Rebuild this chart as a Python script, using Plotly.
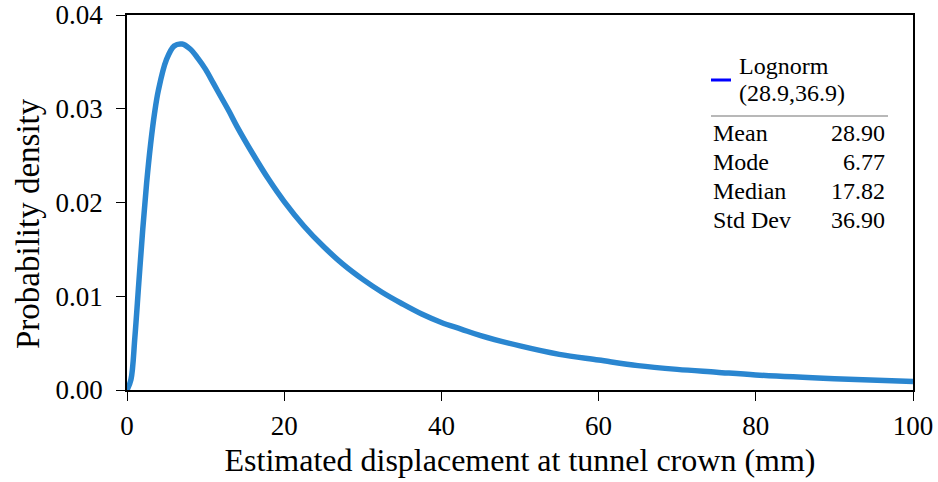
import plotly.graph_objects as go

# Curve values (estimated displacement mm, density)
disp_mm = [0, 0.5, 1, 1.5, 2, 2.5, 3, 3.5, 4, 5, 6, 7, 8, 9, 10, 11, 12, 13, 14, 16, 18, 20,
           22.5, 25, 27.5, 30, 32.5, 35, 37.5, 40, 42.5, 45, 50, 55, 60, 65, 70, 75, 80, 90, 100]
density = [0.0, 0.0011, 0.0056, 0.0114, 0.0171, 0.0221, 0.0262, 0.0295, 0.0320, 0.0352,
           0.0367, 0.0369, 0.0364, 0.0354, 0.0342, 0.0327, 0.0312, 0.0297, 0.0281, 0.0252,
           0.0225, 0.0201, 0.0175, 0.0153, 0.0134, 0.0118, 0.0104, 0.0092, 0.0081, 0.0072,
           0.0065, 0.0058, 0.0047, 0.0038, 0.0032, 0.0026, 0.0022, 0.0019, 0.0016, 0.0012, 0.0009]

x_ticks = [0, 20, 40, 60, 80, 100]
y_ticks = [0.0, 0.01, 0.02, 0.03, 0.04]

legend_name = ["Lognorm", "(28.9,36.9)"]
stat_labels = ["Mean", "Mode", "Median", "Std Dev"]
stat_values = ["28.90", "6.77", "17.82", "36.90"]

FONT = "Liberation Serif"
L, R, T, B = 127, 25, 15, 92
PW, PH = 938 - L - R, 482 - T - B


def px(xp):
    return (xp - L) / PW


def py(yp):
    return (482 - B - yp) / PH


fig = go.Figure()
fig.add_trace(go.Scatter(x=disp_mm, y=density, mode="lines",
                         line=dict(color="#2A86D0", width=5.5, shape="spline", smoothing=1.0),
                         showlegend=False, hoverinfo="skip"))

axis_common = dict(showline=True, linecolor="black", linewidth=1.5, mirror=True,
                   ticks="outside", ticklen=9, tickcolor="black", tickwidth=1,
                   showgrid=False, zeroline=False, automargin=False,
                   tickfont=dict(family=FONT, size=27, color="black"))

fig.update_xaxes(range=[0, 100], tickvals=x_ticks, ticklabelstandoff=2,
                 title=dict(text="Estimated displacement at tunnel crown (mm)",
                            font=dict(family=FONT, size=32, color="black"), standoff=8),
                 **axis_common)
fig.update_yaxes(range=[0, 0.04], tickvals=y_ticks, tickformat=".2f", ticklabelstandoff=8,
                 **axis_common)

# Y axis title placed as rotated text
fig.add_annotation(xref="paper", yref="paper", x=px(28), y=py(224),
                   text="Probability density", textangle=-90, showarrow=False,
                   xanchor="center", yanchor="middle",
                   font=dict(family=FONT, size=33, color="black"))

# Legend-like info box
fig.add_shape(type="line", xref="paper", yref="paper",
              x0=px(711), x1=px(731), y0=py(80), y1=py(80),
              line=dict(color="#0000FF", width=3))
fig.add_annotation(xref="paper", yref="paper", x=px(737), y=py(66),
                   text=legend_name[0], showarrow=False, xanchor="left", yanchor="middle",
                   font=dict(family=FONT, size=24, color="black"))
fig.add_annotation(xref="paper", yref="paper", x=px(737), y=py(93),
                   text=legend_name[1], showarrow=False, xanchor="left", yanchor="middle",
                   font=dict(family=FONT, size=24, color="black"))
fig.add_shape(type="line", xref="paper", yref="paper",
              x0=px(711), x1=px(888), y0=py(116), y1=py(116),
              line=dict(color="#A0A0A0", width=1.5))
row_y = [133, 162, 191, 220]
for lab, val, ry in zip(stat_labels, stat_values, row_y):
    fig.add_annotation(xref="paper", yref="paper", x=px(711), y=py(ry),
                       text=lab, showarrow=False, xanchor="left", yanchor="middle",
                       font=dict(family=FONT, size=24, color="black"))
    fig.add_annotation(xref="paper", yref="paper", x=px(887), y=py(ry),
                       text=val, showarrow=False, xanchor="right", yanchor="middle",
                       font=dict(family=FONT, size=24, color="black"))

fig.update_layout(width=938, height=482, margin=dict(l=L, r=R, t=T, b=B),
                  paper_bgcolor="white", plot_bgcolor="white",
                  font=dict(family=FONT, color="black"))

fig.write_html("out.html")
